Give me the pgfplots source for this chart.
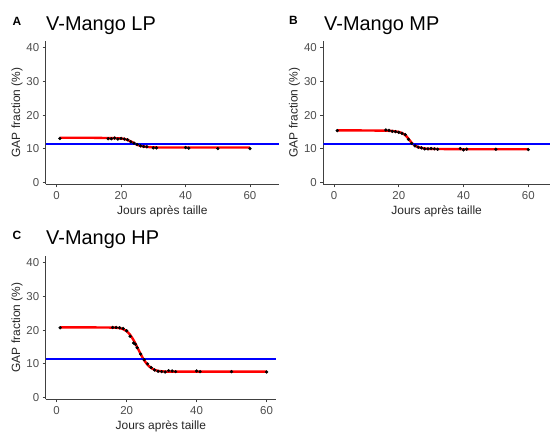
\documentclass[border=0pt]{standalone}
\usepackage{fontspec}
\setmainfont{Liberation Sans}
\usepackage{pgfplots}
\pgfplotsset{compat=1.18}
\definecolor{tickgray}{HTML}{4D4D4D}
\definecolor{fitred}{HTML}{FF0000}
\definecolor{refblue}{HTML}{0000FF}
\pgfplotsset{gg/.style={
  scale only axis,
  axis x line*=bottom, axis y line*=left,
  axis line style={-, black!75, line width=0.9bp},
  major tick style={black!75, line width=0.8bp},
  tick align=outside, major tick length=3bp,
  ymin=-0.5, ymax=42, ytick={0,10,20,30,40}, xtick={0,20,40,60},
  height=143.4bp,
  ticklabel style={font=\fontsize{11.5}{11.5}\selectfont, text=tickgray},
  xticklabel style={yshift=-0.5bp},
  /pgf/number format/assume math mode=true,
  xlabel={Jours après taille}, ylabel={GAP fraction (\%)},
  every axis x label/.style={at={(axis description cs:0.5,0)}, anchor=center, yshift=-27bp, font=\fontsize{12}{12}\selectfont, text=black!85},
  every axis y label/.style={at={(axis description cs:0,0.5)}, xshift=-28.7bp, rotate=90, anchor=center, font=\fontsize{12}{12}\selectfont, text=black!85},
}}
\begin{document}
\begin{tikzpicture}
\useasboundingbox (0,0) rectangle (550bp,432bp);
% ---------- A ----------
\begin{axis}[gg, at={(45.7bp,247.7bp)}, anchor=south west, width=233.3bp, xmin=-3.4, xmax=69]
\addplot[draw=fitred, line width=2.4bp, no markers, smooth] coordinates {(1,13.3) (10,13.3) (16,13.2) (19,13.15) (20,13.1) (21,12.95) (22,12.65) (23,12.2) (24,11.7) (25,11.2) (26,10.9) (27,10.7) (28,10.6) (30,10.45) (35,10.4) (60,10.4)};
\addplot[only marks, mark=*, mark size=1.45bp, draw=black, fill=black] coordinates {(1,13.1) (16,13.0) (17,13.0) (18,13.2) (19,12.9) (20,13.1) (21,12.9) (22,12.7) (23,12.1) (24,11.7) (25,11.3) (26,10.9) (27,10.7) (28,10.6) (30,10.3) (31,10.3) (40,10.4) (41,10.2) (50,10.1) (60,10.1)};
\addplot[draw=refblue, line width=2bp, no markers] coordinates {(-3.4,11.3) (69,11.3)};
\end{axis}
\node[anchor=base west, inner sep=0, font=\bfseries\fontsize{12}{12}\selectfont] at (12.5bp,406bp) {A};
\node[anchor=base west, inner sep=0, font=\fontsize{20}{20}\selectfont] at (46bp,401.5bp) {V-Mango LP};
% ---------- B ----------
\begin{axis}[gg, at={(323.3bp,247.7bp)}, anchor=south west, width=226.7bp, xmin=-3.3, xmax=66.7]
\addplot[draw=fitred, line width=2.4bp, no markers, smooth] coordinates {(1,15.5) (10,15.45) (15,15.4) (18,15.3) (20,15.0) (21,14.7) (22,14.1) (23,13.0) (24,11.8) (25,11.0) (26,10.5) (27,10.3) (28,10.1) (30,10.0) (40,9.9) (60,9.9)};
\addplot[only marks, mark=*, mark size=1.45bp, draw=black, fill=black] coordinates {(1,15.4) (16,15.6) (17,15.5) (18,15.2) (19,15.1) (20,14.9) (21,14.6) (22,14.2) (23,12.8) (24,11.6) (25,10.9) (26,10.5) (27,10.3) (28,10.0) (29,10.0) (30,10.1) (31,10.0) (32,9.9) (39,10.1) (40,9.7) (41,9.9) (50,9.9) (60,9.8)};
\addplot[draw=refblue, line width=2bp, no markers] coordinates {(-3.3,11.3) (66.7,11.3)};
\end{axis}
\node[anchor=base west, inner sep=0, font=\bfseries\fontsize{12}{12}\selectfont] at (289bp,407bp) {B};
\node[anchor=base west, inner sep=0, font=\fontsize{20}{20}\selectfont] at (324bp,401.5bp) {V-Mango MP};
% ---------- C ----------
\begin{axis}[gg, at={(45.7bp,32.7bp)}, anchor=south west, width=230.3bp, xmin=-3.14, xmax=62.7]
\addplot[draw=fitred, line width=2.4bp, no markers, smooth] coordinates {(1,20.8) (10,20.8) (16,20.75) (18,20.6) (19,20.3) (20,19.7) (21,18.6) (22,17.0) (23,15.0) (24,12.9) (25,11.1) (26,9.7) (27,8.8) (28,8.2) (29,7.9) (30,7.8) (32,7.7) (40,7.7) (60,7.7)};
\addplot[only marks, mark=*, mark size=1.45bp, draw=black, fill=black] coordinates {(1,20.7) (16,20.8) (17,20.8) (18,20.7) (19,20.5) (20,19.8) (21,18.2) (22,16.2) (22.5,15.8) (23,14.8) (24,12.9) (25,11.2) (26,10.0) (27,8.9) (28,8.2) (29,7.8) (30,7.7) (31,7.6) (32,8.0) (33,7.9) (34,7.7) (40,7.9) (41,7.7) (50,7.7) (60,7.6)};
\addplot[draw=refblue, line width=2bp, no markers] coordinates {(-3.14,11.3) (62.7,11.3)};
\end{axis}
\node[anchor=base west, inner sep=0, font=\bfseries\fontsize{12}{12}\selectfont] at (12.5bp,192.7bp) {C};
\node[anchor=base west, inner sep=0, font=\fontsize{20}{20}\selectfont] at (46bp,187bp) {V-Mango HP};
\end{tikzpicture}
\end{document}
